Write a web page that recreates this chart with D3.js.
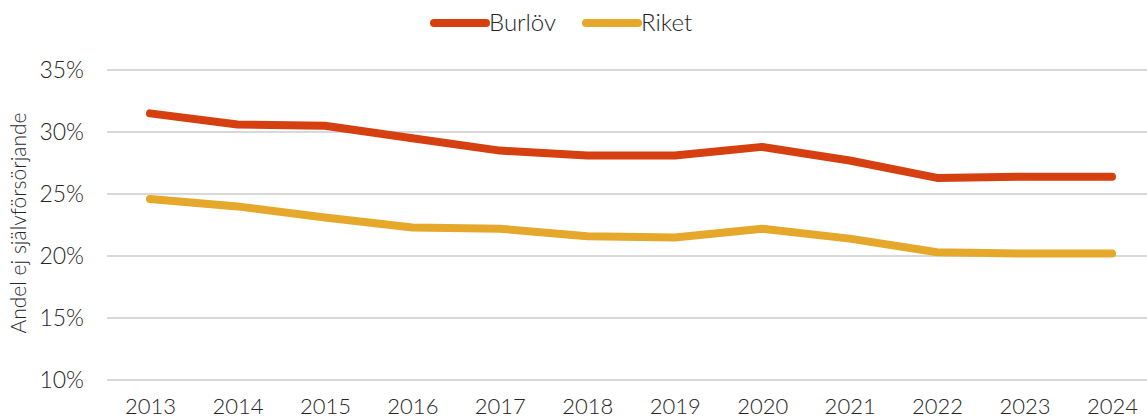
<!DOCTYPE html>
<html>
<head>
<meta charset="utf-8">
<script src="https://cdn.jsdelivr.net/npm/d3@7"></script>
<style>
  html, body { margin: 0; padding: 0; background: #fff; }
  svg { display: block; font-family: Lato, "Open Sans", sans-serif; font-weight: 300; }
</style>
</head>
<body>
<svg id="chart" width="1147" height="420"></svg>
<script>
const years = ["2013","2014","2015","2016","2017","2018","2019","2020","2021","2022","2023","2024"];
const burlov = [31.5, 30.6, 30.5, 29.5, 28.5, 28.1, 28.1, 28.8, 27.7, 26.3, 26.4, 26.4];
const riket  = [24.6, 24.0, 23.1, 22.3, 22.2, 21.6, 21.5, 22.2, 21.4, 20.3, 20.2, 20.2];
const yTicks = [10, 15, 20, 25, 30, 35];
const seriesNames = ["Burlöv", "Riket"];
const seriesColors = ["#d63f10", "#e5a82a"];

const svg = d3.select("#chart");
const x = d3.scalePoint().domain(years).range([150, 1112]);
const y = d3.scaleLinear().domain([10, 35]).range([380, 70]);
const textColor = "#262626";

// horizontal gridlines
svg.append("g").selectAll("line").data(yTicks).join("line")
  .attr("x1", 107).attr("x2", 1147)
  .attr("y1", d => y(d)).attr("y2", d => y(d))
  .attr("stroke", "#d9d9d9").attr("stroke-width", 2);

// y axis tick labels
const yAxis = d3.axisLeft(y).tickValues(yTicks).tickFormat(d => d + "%").tickSize(0).tickPadding(0);
svg.append("g").attr("transform", "translate(84,0)").call(yAxis)
  .call(g => g.select(".domain").remove())
  .selectAll("text")
  .attr("font-family", "Lato, 'Open Sans', sans-serif")
  .attr("font-weight", 300)
  .attr("font-size", 23).attr("fill", textColor);

// x axis tick labels
const xAxis = d3.axisBottom(x).tickSize(0).tickPadding(0);
svg.append("g").attr("transform", "translate(0,398)").call(xAxis)
  .call(g => g.select(".domain").remove())
  .selectAll("text")
  .attr("font-family", "Lato, 'Open Sans', sans-serif")
  .attr("font-weight", 300)
  .attr("font-size", 22).attr("fill", textColor);

// y axis title
svg.append("text")
  .attr("transform", "translate(26,223) rotate(-90)")
  .attr("text-anchor", "middle")
  .attr("font-size", 21).attr("fill", textColor)
  .text("Andel ej självförsörjande");

// lines
const line = d3.line().x((d, i) => x(years[i])).y(d => y(d));
[burlov, riket].forEach((vals, i) => {
  svg.append("path").datum(vals)
    .attr("d", line)
    .attr("fill", "none")
    .attr("stroke", seriesColors[i])
    .attr("stroke-width", 8)
    .attr("stroke-linecap", "round")
    .attr("stroke-linejoin", "round");
});

// legend
const legendX = [434, 586];
seriesNames.forEach((name, i) => {
  const g = svg.append("g").attr("transform", `translate(${legendX[i]},23)`);
  g.append("line").attr("x1", 0).attr("x2", 52).attr("y1", 0).attr("y2", 0)
    .attr("stroke", seriesColors[i]).attr("stroke-width", 8).attr("stroke-linecap", "round");
  g.append("text").attr("x", 55).attr("y", 0).attr("dy", "0.35em")
    .attr("font-size", 24).attr("fill", textColor).text(name);
});
</script>
</body>
</html>
